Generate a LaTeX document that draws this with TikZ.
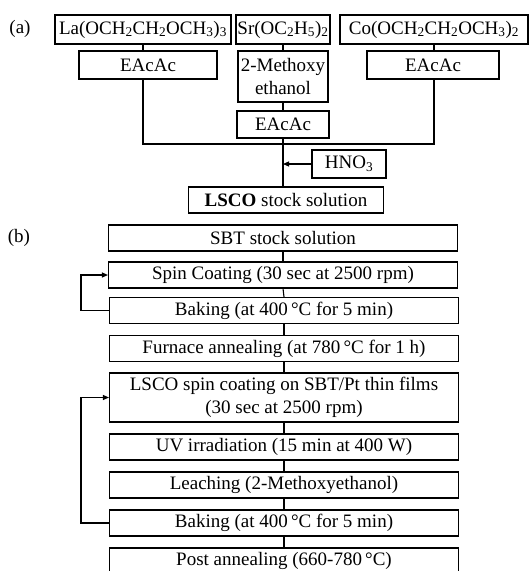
\documentclass[tikz,border=0pt]{standalone}
\usepackage{fontspec}
\setmainfont{Liberation Serif}
\usetikzlibrary{arrows.meta}
\tikzset{
    txt/.style={font=\fontsize{19}{23}\selectfont},
    box/.style={txt, draw, line width=1.1pt, inner sep=0pt, align=center, minimum height=26},
    link/.style={line width=1.1pt},
    feed/.style={line width=1.1pt, -{Triangle[length=6pt,width=5pt]}},
}
\newcommand{\sub}[1]{\textsubscript{#1}}
\newcommand{\degC}{\,\textdegree C}
\begin{document}
\begin{tikzpicture}[x=1pt, y=-1pt]
    \useasboundingbox (0,0) rectangle (531,571);
    \node[txt] (tagA) at (20,29) {(a)};
    \node[txt] (tagB) at (19,238) {(b)};
    \node[box, minimum width=176, minimum height=29] (la) at (143,29.5) {La(OCH\sub{2}CH\sub{2}OCH\sub{3})\sub{3}};
    \node[box, minimum width=94, minimum height=29] (sr) at (283,29.5) {Sr(OC\sub{2}H\sub{5})\sub{2}};
    \node[box, minimum width=188, minimum height=29] (co) at (434,29.5) {Co(OCH\sub{2}CH\sub{2}OCH\sub{3})\sub{2}};
    \node[box, minimum width=138, minimum height=28] (e1) at (148,65) {EAcAc};
    \node[box, minimum width=90, minimum height=51] (meo) at (283,76.5) {2-Methoxy\\ethanol};
    \node[box, minimum width=92, minimum height=27] (e2) at (283,124.5) {EAcAc};
    \node[box, minimum width=132, minimum height=28] (e3) at (433,65) {EAcAc};
    \coordinate (mix) at (283,144);
    \node[box, minimum width=74, minimum height=28] (hno) at (349,164) {HNO\sub{3}};
    \node[box, minimum width=195] (lsco) at (286,200) {\textbf{LSCO} stock solution};
    \draw[link] (la.south) -- (la.south |- e1.north);
    \draw[link] (la.south |- e1.south) |- (mix) -| (co.south |- e3.south);
    \draw[link] (co.south) -- (co.south |- e3.north);
    \draw[link] (sr.south) -- (meo.north);
    \draw[link] (meo.south) -- (e2.north);
    \draw[link] (e2.south) -- (e2.south |- lsco.north);
    \draw[feed] (hno.west) -- (hno.west -| e2.south);
    \begin{scope}[every node/.style={box, minimum width=349}]
        \node (sbt) at (283,238) {SBT stock solution};
        \node (spin) at (283,275) {Spin Coating (30 sec at 2500 rpm)};
        \node (bake1) at (284,310.5) {Baking (at 400\degC{} for 5 min)};
        \node (furnace) at (284,348.5) {Furnace annealing (at 780\degC{} for 1 h)};
        \node[minimum height=49] (lscospin) at (284,397.5) {LSCO spin coating on SBT/Pt thin films\\(30 sec at 2500 rpm)};
        \node (uv) at (284,447) {UV irradiation (15 min at 400 W)};
        \node (leach) at (284,485) {Leaching (2-Methoxyethanol)};
        \node (bake2) at (284,523) {Baking (at 400\degC{} for 5 min)};
        \node (post) at (284,561) {Post annealing (660-780\degC)};
    \end{scope}
    \foreach \u/\v in {sbt/spin, spin/bake1, bake1/furnace, furnace/lscospin, lscospin/uv, uv/leach, leach/bake2, bake2/post}
        \draw[link] (\u.south) -- (\v.north);
    \draw[feed] (bake1.west) -- ++(-28,0) |- (spin.west);
    \draw[feed] (bake2.west) -- ++(-28,0) |- (lscospin.west);
\end{tikzpicture}
\end{document}
